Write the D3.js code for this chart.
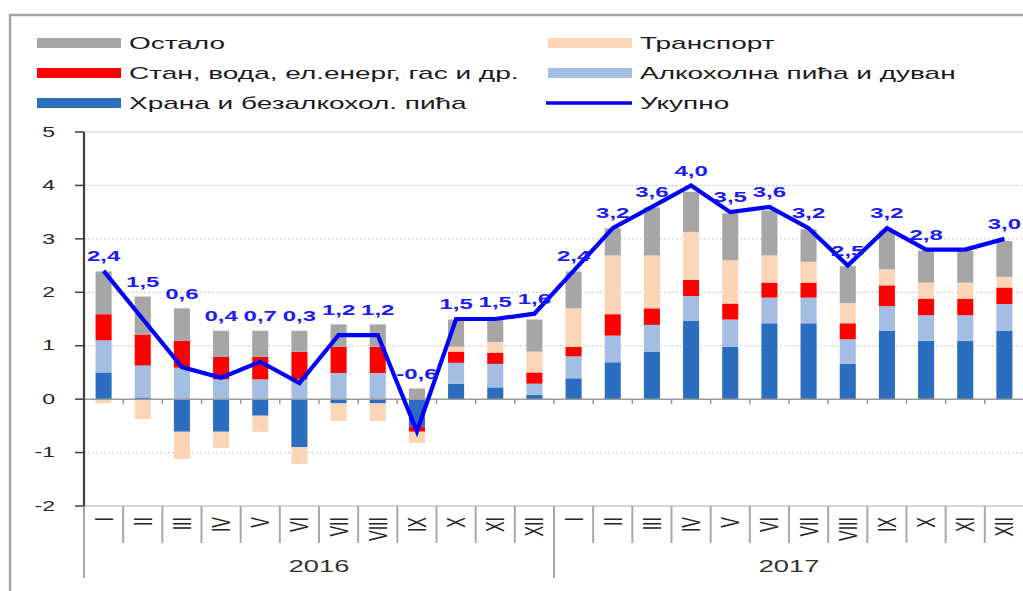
<!DOCTYPE html>
<html><head><meta charset="utf-8">
<script src="https://cdn.jsdelivr.net/npm/d3@7/dist/d3.min.js"></script>
<style>body{margin:0;background:#fff;} svg{display:block;}</style>
</head><body>
<svg id="c" width="1023" height="591"></svg>
<script>
// ---------- DATA ----------
const months = ["I","II","III","IV","V","VI","VII","VIII","IX","X","XI","XII"];
const years = ["2016","2017"];
const seriesKeys = ["Храна и безалкохол. пића","Алкохолна пића и дуван","Стан, вода, ел.енерг, гас и др.","Транспорт","Остало"];
const food      = [0.5, 0.03, -0.61, -0.61, -0.31, -0.9, -0.08, -0.08, -0.51, 0.29, 0.22, 0.08, 0.39, 0.69, 0.89, 1.47, 0.98, 1.42, 1.42, 0.66, 1.28, 1.09, 1.09, 1.28];
const alcohol   = [0.6, 0.6, 0.59, 0.37, 0.37, 0.37, 0.49, 0.49, 0, 0.39, 0.44, 0.21, 0.41, 0.5, 0.5, 0.46, 0.51, 0.48, 0.48, 0.46, 0.46, 0.48, 0.48, 0.5];
const housing   = [0.49, 0.58, 0.5, 0.42, 0.42, 0.52, 0.49, 0.49, -0.1, 0.21, 0.21, 0.21, 0.18, 0.4, 0.31, 0.3, 0.3, 0.28, 0.28, 0.3, 0.39, 0.31, 0.31, 0.31];
const transport = [-0.08, -0.37, -0.51, -0.3, -0.3, -0.31, -0.33, -0.33, -0.21, 0.09, 0.2, 0.39, 0.72, 1.1, 0.99, 0.9, 0.81, 0.51, 0.39, 0.38, 0.3, 0.3, 0.3, 0.2];
const other     = [0.8, 0.71, 0.61, 0.49, 0.49, 0.39, 0.42, 0.42, 0.2, 0.51, 0.47, 0.6, 0.69, 0.51, 0.9, 0.75, 0.88, 0.84, 0.61, 0.69, 0.72, 0.6, 0.6, 0.67];
const total     = [2.4, 1.5, 0.6, 0.4, 0.7, 0.3, 1.2, 1.2, -0.6, 1.5, 1.5, 1.6, 2.4, 3.2, 3.6, 4.0, 3.5, 3.6, 3.2, 2.5, 3.2, 2.8, 2.8, 3.0];
const totalLabels = ["2,4","1,5","0,6","0,4","0,7","0,3","1,2","1,2","-0,6","1,5","1,5","1,6","2,4","3,2","3,6","4,0","3,5","3,6","3,2","2,5","3,2","2,8","","3,0"];
const totalName = "Укупно";
const yTicks = [5,4,3,2,1,0,-1,-2];

// ---------- STYLE ----------
const colors = {};
colors[seriesKeys[0]] = "#2b6dbf";
colors[seriesKeys[1]] = "#a3bde3";
colors[seriesKeys[2]] = "#ff0000";
colors[seriesKeys[3]] = "#fbd5b5";
colors[seriesKeys[4]] = "#a6a6a6";
const lineColor = "#0000ff";
const FONT = "'Liberation Sans', Arial, sans-serif";
const SX = 1.65; // horizontal stretch of the original picture

const svg = d3.select("#c");
const seriesArrays = [food, alcohol, housing, transport, other];
const cats = d3.range(total.length);
const rows = cats.map(i => {
  const r = {i};
  seriesKeys.forEach((k, j) => r[k] = seriesArrays[j][i]);
  return r;
});

const x = d3.scaleBand().domain(cats).range([84, 1024]).padding(0);
const y = d3.scaleLinear().domain([-2, 5]).range([506, 132]);
const barW = x.bandwidth() * 0.41;
const cx = i => x(i) + x.bandwidth() / 2;

function stext(g, tx, ty, str, opt) {
  return g.append("text")
    .attr("transform", `translate(${tx},${ty}) scale(${opt.sx || SX},1)` + (opt.rot ? ` rotate(${opt.rot})` : ""))
    .attr("font-family", FONT)
    .attr("font-size", opt.size)
    .attr("font-weight", opt.weight || "normal")
    .attr("fill", opt.fill || "#222")
    .attr("text-anchor", opt.anchor || "start")
    .attr("dominant-baseline", "central")
    .text(str);
}

// frame
svg.append("path").attr("d", "M10,591 L10,15 L1023,15")
  .attr("fill", "none").attr("stroke", "#a6a6a6").attr("stroke-width", 2.5);

// gridlines
yTicks.forEach(v => {
  if (v === 0 || v === -2) return;
  svg.append("line").attr("x1", 84).attr("x2", 1023).attr("y1", y(v)).attr("y2", y(v))
    .attr("stroke", v === 5 ? "#cfcfcf" : "#c8c8c8").attr("stroke-width", 1)
    .attr("stroke-dasharray", v === 5 ? null : "2,2");
});

// bars
const stack = d3.stack().keys(seriesKeys).offset(d3.stackOffsetDiverging);
const stacked = stack(rows);
svg.append("g").selectAll("g").data(stacked).join("g")
  .attr("fill", d => colors[d.key])
  .selectAll("rect").data(d => d).join("rect")
  .attr("x", d => cx(d.data.i) - barW / 2)
  .attr("width", barW)
  .attr("y", d => y(Math.max(d[0], d[1])))
  .attr("height", d => Math.abs(y(d[0]) - y(d[1])));

// zero line + minor ticks
svg.append("line").attr("x1", 84).attr("x2", 1023).attr("y1", y(0)).attr("y2", y(0))
  .attr("stroke", "#9a9a9a").attr("stroke-width", 1.5);
cats.slice(1).forEach(i => {
  svg.append("line").attr("x1", x(i)).attr("x2", x(i)).attr("y1", y(0)).attr("y2", y(0) + 5)
    .attr("stroke", "#9a9a9a").attr("stroke-width", 1.5);
});

// bottom axis + separators
svg.append("line").attr("x1", 84).attr("x2", 1023).attr("y1", y(-2)).attr("y2", y(-2))
  .attr("stroke", "#b0b0b0").attr("stroke-width", 1.2);
d3.range(total.length + 1).forEach(k => {
  const xx = k < total.length ? x(k) : x(total.length - 1) + x.step();
  svg.append("line").attr("x1", xx).attr("x2", xx).attr("y1", y(-2))
    .attr("y2", k % 12 === 0 ? 578 : 543)
    .attr("stroke", "#a8a8a8").attr("stroke-width", 2);
});

// y axis
svg.append("line").attr("x1", 84).attr("x2", 84).attr("y1", y(5)).attr("y2", y(-2))
  .attr("stroke", "#404040").attr("stroke-width", 2.2);
yTicks.forEach(v => {
  svg.append("line").attr("x1", 75).attr("x2", 84).attr("y1", y(v)).attr("y2", y(v))
    .attr("stroke", "#404040").attr("stroke-width", 1.5);
  stext(svg, 55, y(v), String(v), {size: 14, anchor: "end", fill: "#262626"});
});

// month labels (rotated)
cats.forEach(i => {
  stext(svg, cx(i), 517, months[i % 12], {size: 16, anchor: "end", rot: -90, fill: "#262626"});
});
// year labels
years.forEach((yr, k) => {
  const x0 = x(k * 12), x1 = x(k * 12 + 11) + x.step();
  stext(svg, (x0 + x1) / 2, 567, yr, {size: 16.5, anchor: "middle", fill: "#333"});
});

// total line
svg.append("path").datum(total)
  .attr("fill", "none").attr("stroke", lineColor).attr("stroke-width", 4.2)
  .attr("stroke-linejoin", "miter")
  .attr("d", d3.line().x((d, i) => cx(i)).y(d => y(d)));

// total labels
const barTop = cats.map(i => d3.sum(seriesArrays, a => Math.max(0, a[i])));
cats.forEach(i => {
  if (!totalLabels[i]) return;
  const top = Math.min(y(total[i]), y(barTop[i]));
  stext(svg, cx(i), top - 15, totalLabels[i], {size: 15, weight: "bold", anchor: "middle", fill: "#1c1cf5", sx: 1.6});
});

// legend
const legendItems = [
  {name: seriesKeys[4], col: 0, row: 0, type: "rect"},
  {name: seriesKeys[3], col: 1, row: 0, type: "rect"},
  {name: seriesKeys[2], col: 0, row: 1, type: "rect"},
  {name: seriesKeys[1], col: 1, row: 1, type: "rect"},
  {name: seriesKeys[0], col: 0, row: 2, type: "rect"},
  {name: totalName, col: 1, row: 2, type: "line"}
];
const colX = [37, 548], rowY = [43, 73, 103];
legendItems.forEach(it => {
  const lx = colX[it.col], ly = rowY[it.row];
  if (it.type === "rect") {
    svg.append("rect").attr("x", lx).attr("y", ly - 5).attr("width", 84).attr("height", 10)
      .attr("fill", colors[it.name]);
  } else {
    svg.append("line").attr("x1", lx - 2).attr("x2", lx + 84).attr("y1", ly).attr("y2", ly)
      .attr("stroke", lineColor).attr("stroke-width", 3.5);
  }
  stext(svg, lx + 92, ly, it.name, {size: 16, fill: "#1a1a1a", sx: 1.75});
});
</script>
</body></html>
